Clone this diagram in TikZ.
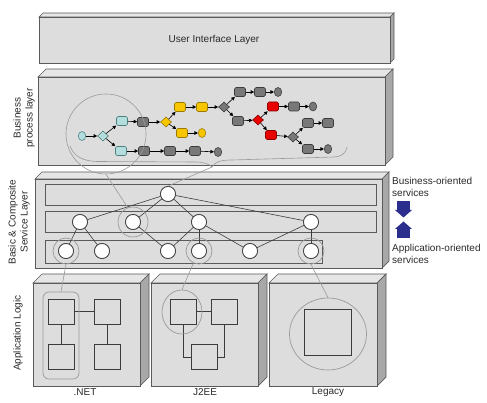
\documentclass[tikz,border=0pt]{standalone}
\usepackage{fontspec}
\setmainfont{Liberation Sans}
\usetikzlibrary{arrows.meta,shapes.geometric}
\definecolor{frontc}{HTML}{DDDDDD}
\definecolor{topc}{HTML}{E6E6E6}
\definecolor{sidec}{HTML}{A8A8A8}
\definecolor{linec}{HTML}{5A5A5A}
\definecolor{txtc}{HTML}{2A2A2A}
\definecolor{cyf}{HTML}{B4DEDE}
\definecolor{cyd}{HTML}{4E8080}
\definecolor{ylf}{HTML}{F7C600}
\definecolor{yld}{HTML}{9A7A00}
\definecolor{gyf}{HTML}{787878}
\definecolor{gyd}{HTML}{3C3C3C}
\definecolor{rdf}{HTML}{E80000}
\definecolor{rdd}{HTML}{8A0000}
\definecolor{navyc}{HTML}{2B2E8C}
\definecolor{thinc}{HTML}{9A9A9A}
\newcommand{\slab}[5]{%
  \filldraw[slabline,fill=topc] (#1,#2) -- (#1+#5,#2-#5) -- (#3+#5,#2-#5) -- (#3,#2) -- cycle;
  \filldraw[slabline,fill=sidec] (#3,#2) -- (#3+#5,#2-#5) -- (#3+#5,#4-#5) -- (#3,#4) -- cycle;
  \filldraw[slabline,fill=frontc] (#1,#2) rectangle (#3,#4);
}
\begin{document}
\begin{tikzpicture}[x=1pt,y=-1pt,
  slabline/.style={draw=linec,line width=0.7pt},
  lbl/.style={font=\fontsize{10pt}{12pt}\selectfont,text=txtc,inner sep=0pt,align=center},
  ptask/.style={rectangle,rounded corners=1.5pt,minimum width=11pt,minimum height=9pt,inner sep=0pt,line width=0.6pt},
  pgate/.style={diamond,minimum width=11pt,minimum height=10pt,inner sep=0pt,line width=0.6pt},
  pend/.style={ellipse,minimum width=7.5pt,minimum height=9pt,inner sep=0pt,line width=0.6pt},
  cyc/.style={draw=cyd,fill=cyf},
  ylc/.style={draw=yld,fill=ylf},
  gyc/.style={draw=gyd,fill=gyf},
  rdc/.style={draw=rdd,fill=rdf},
  flow/.style={-{Triangle[length=3.5pt,width=3.5pt]},line width=0.6pt,black},
  svc/.style={circle,draw=gyd,fill=white,minimum size=15pt,inner sep=0pt,line width=0.7pt},
  ringc/.style={circle,draw=thinc,line width=0.7pt,inner sep=0pt},
  link/.style={draw=thinc,line width=0.6pt},
  edge/.style={draw=gyd,line width=0.6pt},
  strip/.style={draw=linec,fill=frontc,line width=0.6pt},
  appsq/.style={rectangle,draw=gyd,line width=0.7pt,minimum width=26pt,minimum height=25pt,inner sep=0pt},
  appln/.style={draw=gyd,line width=0.7pt}
]
\useasboundingbox (0,0) rectangle (487,403);
\fill[white] (0,0) rectangle (487,403);

% ---------- layers ----------
\slab{39}{17}{390}{63}{4}
\slab{38}{77}{385}{165}{8}
\slab{35}{179}{382}{268}{7}
\slab{33}{283}{140}{386}{9}
\slab{151}{283}{258}{386}{9}
\slab{269}{283}{377}{386}{9}

% ---------- texts ----------
\node[lbl] (ui) at (214,40) {User Interface Layer};
\node[lbl,rotate=90] (lbp) at (24,118) {Business\\process layer};
\node[lbl,rotate=90] (lsv) at (19,222) {Basic \& Composite\\Service Layer};
\node[lbl,rotate=90] (lal) at (18,333) {Application Logic};
\node[lbl] (lnet) at (85,392) {.NET};
\node[lbl] (lj2) at (205,392) {J2EE};
\node[lbl] (llg) at (328,392) {Legacy};
\node[lbl,anchor=west,align=left] (lbo) at (392,187) {Business-oriented\\services};
\node[lbl,anchor=west,align=left] (lao) at (392,253.5) {Application-oriented\\services};

% ---------- blue arrows ----------
\fill[navyc] (397,201) rectangle (410,210);
\fill[navyc] (395,210) -- (412,210) -- (403.5,217.5) -- cycle;
\fill[navyc] (395,229) -- (412,229) -- (403.5,221.5) -- cycle;
\fill[navyc] (397,229) rectangle (410,238);

% ---------- business process ----------
\node[pend,cyc] (s0) at (82,136) {};
\node[pgate,cyc] (g0) at (103,136) {};
\node[ptask,cyc] (c1) at (122,121) {};
\node[ptask,cyc] (c2) at (121,151) {};
\node[ptask,gyc] (k1) at (143,122) {};
\node[pgate,ylc] (gy) at (166,122) {};
\node[ptask,ylc] (y1) at (180,107) {};
\node[ptask,ylc] (y2) at (202,107) {};
\node[pgate,gyc] (gd1) at (224,107) {};
\node[ptask,ylc] (y3) at (182,133) {};
\node[pend,ylc] (ye) at (202,133) {};
\node[ptask,gyc] (k2) at (144,151) {};
\node[ptask,gyc] (k3) at (170,151) {};
\node[ptask,gyc] (k4) at (195,151) {};
\node[pend,gyc] (ke1) at (218,152) {};
\node[ptask,gyc] (k5) at (240,92) {};
\node[ptask,gyc] (k6) at (260,92) {};
\node[pend,gyc] (ke2) at (278,92) {};
\node[ptask,gyc] (k7) at (238,121) {};
\node[pgate,rdc] (rd) at (258,120) {};
\node[ptask,rdc] (rt1) at (273,106.5) {};
\node[ptask,gyc] (k8) at (294,106.5) {};
\node[pend,gyc] (ke3) at (313,106.5) {};
\node[ptask,rdc] (rt2) at (271,135) {};
\node[pgate,gyc] (gd2) at (293,137) {};
\node[ptask,gyc] (k9) at (308,123) {};
\node[ptask,gyc] (k10) at (328,123) {};
\node[ptask,gyc] (k11) at (308,149) {};
\node[pend,gyc] (ke4) at (328,149) {};

\foreach \a/\b in {s0/g0,g0/c1,g0/c2,c1/k1,k1/gy,gy/y1,y1/y2,y2/gd1,gy/y3,y3/ye,
  c2/k2,k2/k3,k3/k4,k4/ke1,gd1/k5,k5/k6,k6/ke2,gd1/k7,k7/rd,rd/rt1,rt1/k8,k8/ke3,
  rd/rt2,rt2/gd2,gd2/k9,k9/k10,gd2/k11,k11/ke4}
  \draw[flow] (\a) -- (\b);

% highlight circle and brace
\node[circle,draw=thinc,line width=0.6pt,minimum size=80pt,inner sep=0pt] (bigc) at (106,134) {};
\coordinate (bt) at (212,167);
\draw[link] (70,146) .. controls (74,156) and (82,161) .. (97,161.5) -- (195,162)
  .. controls (204,162) and (209,164) .. (bt)
  .. controls (215,162) and (220,160) .. (232,160) -- (334,157)
  .. controls (342,156.5) and (346,153) .. (347,147);

% ---------- service layer ----------
\filldraw[strip] (45,184) rectangle (376,205);
\filldraw[strip] (45,211) rectangle (376,232);
\filldraw[strip] (45,240) rectangle (322,263);

\node[svc] (n0) at (168,194) {};
\node[svc] (n1) at (80,222) {};
\node[svc] (n2) at (133,222) {};
\node[svc] (n3) at (199,222) {};
\node[svc] (n4) at (311,222) {};
\node[svc] (m1) at (66,251) {};
\node[svc] (m2) at (102,251) {};
\node[svc] (m3) at (168,251) {};
\node[svc] (m4) at (199,251) {};
\node[svc] (m5) at (250,251) {};
\node[svc] (m6) at (311,251) {};

\foreach \a/\b in {n0/n1,n0/n2,n0/n3,n0/n4,n1/m1,n1/m2,n2/m3,n3/m3,n3/m4,n3/m5,m5/n4,n4/m6}
  \draw[edge] (\a) -- (\b);
\foreach \a in {n0,n1,n2,n3,n4,m1,m2,m3,m4,m5,m6}
  \node[svc] at (\a) {};

\node[ringc,minimum size=30pt] (rg2) at (n2) {};
\node[ringc,minimum size=26pt] (rgA) at (m1) {};
\node[ringc,minimum size=26pt] (rgB) at (m4) {};
\node[ringc,minimum size=26pt] (rgC) at (m6) {};

\draw[link] (bigc.south) -- (rg2.110);
\draw[link] (bt) -- (n0.north);

% ---------- application logic ----------
\node[appsq] (a1) at (61,311.5) {};
\node[appsq] (a2) at (107,311.5) {};
\node[appsq] (a3) at (61,357) {};
\node[appsq] (a4) at (107,357) {};
\draw[appln] (a1) -- (a2);
\draw[appln] (a1) -- (a3);
\draw[appln] (a2) -- (a4);
\node[rectangle,rounded corners=6pt,draw=thinc,line width=0.7pt,minimum width=36pt,minimum height=87pt,inner sep=0pt] (netrr) at (61,335.5) {};

\node[appsq] (b1) at (183,311.5) {};
\node[appsq] (b2) at (224,311.5) {};
\node[appsq] (b3) at (204,357) {};
\draw[appln] (b1) -- (b2);
\draw[appln] (b1.south) |- (b3.west);
\draw[appln] (b2.south) |- (b3.east);
\node[ellipse,draw=thinc,line width=0.7pt,minimum width=40pt,minimum height=44pt,inner sep=0pt] (jell) at (182,312) {};

\node[rectangle,draw=gyd,line width=0.7pt,minimum width=47pt,minimum height=46pt,inner sep=0pt] (lsq) at (327.5,332) {};
\node[ellipse,draw=thinc,line width=0.7pt,minimum width=77pt,minimum height=72pt,inner sep=0pt] (lell) at (328,334) {};

\draw[link] (rgA.south) -- (netrr.north);
\draw[link] (rgB.-115) -- (jell.north);
\draw[link] (rgC.south) -- (lell.north);
\end{tikzpicture}
\end{document}
